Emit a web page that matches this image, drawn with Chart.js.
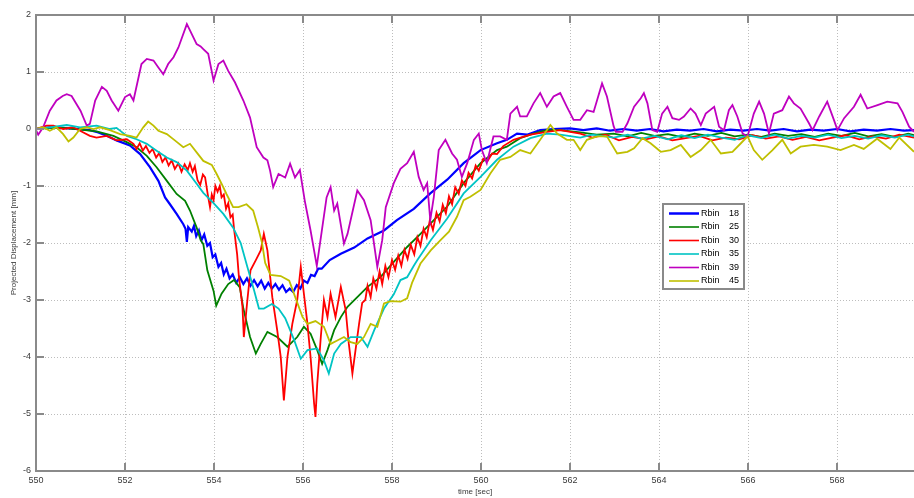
<!DOCTYPE html>
<html><head><meta charset="utf-8">
<script src="https://cdn.jsdelivr.net/npm/chart.js@4.4.1/dist/chart.umd.min.js"></script>
<style>html,body{margin:0;padding:0;background:#fff;overflow:hidden}</style>
</head><body>
<canvas id="c" width="914" height="498"></canvas>
<script>
// ---- data (time [sec], displacement [mm]) ----
const seriesLabels = ['Rbin  18', 'Rbin  25', 'Rbin  30', 'Rbin  35', 'Rbin  39', 'Rbin  45'];
const seriesColors = ['#0000ff', '#008000', '#ff0000', '#00c4c4', '#bf00bf', '#bfbf00'];
const xTicks = [550, 552, 554, 556, 558, 560, 562, 564, 566, 568];
const yTicks = [2, 1, 0, -1, -2, -3, -4, -5, -6];
const xLabel = 'time [sec]';
const yLabel = 'Projected Displacement [mm]';

const rbin18 = [[550,0],[550.3,0.03],[550.61,0.02],[550.9,0],[551.21,-0.02],[551.4,-0.06],[551.59,-0.12],[551.81,-0.2],[552.11,-0.29],[552.34,-0.44],[552.56,-0.67],[552.75,-0.91],[552.9,-1.2],[553.01,-1.32],[553.16,-1.49],[553.31,-1.67],[553.36,-1.75],[553.39,-1.98],[553.42,-1.72],[553.5,-1.8],[553.55,-1.7],[553.6,-1.88],[553.66,-1.78],[553.72,-1.95],[553.78,-1.85],[553.85,-2.05],[553.91,-2],[553.97,-2.25],[554.03,-2.2],[554.1,-2.42],[554.16,-2.35],[554.22,-2.55],[554.28,-2.45],[554.35,-2.62],[554.42,-2.55],[554.5,-2.7],[554.58,-2.6],[554.66,-2.72],[554.74,-2.62],[554.82,-2.75],[554.9,-2.65],[554.98,-2.76],[555.06,-2.66],[555.14,-2.8],[555.22,-2.7],[555.3,-2.8],[555.38,-2.72],[555.46,-2.82],[555.54,-2.74],[555.62,-2.86],[555.7,-2.8],[555.78,-2.86],[555.86,-2.74],[555.94,-2.8],[556.02,-2.66],[556.1,-2.7],[556.18,-2.56],[556.26,-2.58],[556.34,-2.45],[556.42,-2.45],[556.6,-2.3],[556.85,-2.19],[557.15,-2.08],[557.45,-1.92],[557.82,-1.78],[558.11,-1.6],[558.49,-1.4],[558.86,-1.13],[559.24,-0.89],[559.61,-0.6],[559.99,-0.37],[560.36,-0.25],[560.58,-0.19],[560.81,-0.08],[561.03,-0.1],[561.33,-0.02],[561.63,0],[562,0.01],[562.3,-0.02],[562.6,0.01],[562.9,-0.03],[563.2,0],[563.5,-0.03],[563.8,0],[564.1,-0.04],[564.4,-0.01],[564.7,-0.03],[565,0],[565.3,-0.04],[565.6,-0.01],[565.9,-0.03],[566.2,0],[566.5,-0.03],[566.8,0],[567.1,-0.04],[567.4,-0.01],[567.7,-0.03],[568,0],[568.3,-0.04],[568.6,-0.01],[568.9,-0.03],[569.2,0],[569.5,-0.03],[569.73,-0.02]];

const rbin25 = [[550,0],[550.3,0.02],[550.61,0.02],[551,-0.01],[551.36,-0.04],[551.74,-0.12],[552.04,-0.23],[552.26,-0.32],[552.49,-0.47],[552.71,-0.67],[552.94,-0.91],[553.16,-1.14],[553.35,-1.26],[553.46,-1.43],[553.61,-1.73],[553.7,-1.95],[553.76,-2.02],[553.85,-2.48],[553.99,-2.84],[554.05,-3.1],[554.17,-2.89],[554.32,-2.72],[554.45,-2.65],[554.58,-2.78],[554.66,-3.15],[554.81,-3.65],[554.94,-3.94],[555.05,-3.77],[555.2,-3.56],[555.42,-3.65],[555.65,-3.82],[555.87,-3.65],[556.02,-3.47],[556.17,-3.59],[556.32,-3.88],[556.43,-4.12],[556.55,-3.88],[556.7,-3.53],[556.85,-3.3],[557,-3.12],[557.22,-2.95],[557.45,-2.77],[557.74,-2.6],[558.04,-2.33],[558.34,-2.07],[558.64,-1.84],[558.94,-1.6],[559.24,-1.36],[559.61,-0.95],[559.99,-0.6],[560.36,-0.37],[560.58,-0.31],[560.88,-0.16],[561.18,-0.08],[561.48,-0.02],[561.78,-0.02],[562.23,-0.06],[562.6,-0.1],[562.98,-0.08],[563.3,-0.13],[563.6,-0.07],[563.9,-0.12],[564.2,-0.09],[564.5,-0.14],[564.8,-0.08],[565.1,-0.12],[565.4,-0.07],[565.7,-0.13],[566,-0.1],[566.3,-0.14],[566.6,-0.08],[566.9,-0.12],[567.2,-0.09],[567.5,-0.14],[567.8,-0.08],[568.1,-0.12],[568.4,-0.07],[568.7,-0.13],[569,-0.09],[569.3,-0.14],[569.6,-0.08],[569.73,-0.11]];

const rbin30 = [[550,0],[550.24,0.06],[550.39,0.06],[550.61,0],[550.84,0.03],[550.99,-0.03],[551.21,-0.12],[551.36,-0.15],[551.59,-0.12],[551.81,-0.2],[552.04,-0.18],[552.19,-0.26],[552.26,-0.35],[552.33,-0.25],[552.4,-0.38],[552.47,-0.3],[552.55,-0.42],[552.62,-0.35],[552.7,-0.5],[552.77,-0.42],[552.84,-0.58],[552.91,-0.5],[552.98,-0.64],[553.05,-0.55],[553.12,-0.7],[553.2,-0.6],[553.27,-0.75],[553.34,-0.62],[553.41,-0.72],[553.46,-0.6],[553.52,-0.75],[553.57,-0.65],[553.63,-0.9],[553.69,-0.98],[553.75,-0.8],[553.8,-0.85],[553.86,-1.15],[553.91,-1.37],[553.95,-1.15],[553.99,-1.25],[554.03,-1],[554.08,-1.1],[554.13,-1],[554.17,-1.2],[554.22,-1.15],[554.27,-1.4],[554.32,-1.3],[554.37,-1.55],[554.42,-1.5],[554.45,-1.75],[554.52,-2.2],[554.56,-2.6],[554.64,-3.12],[554.67,-3.65],[554.75,-3],[554.82,-2.48],[554.94,-2.3],[555.05,-2.13],[555.12,-1.84],[555.2,-2.13],[555.31,-2.95],[555.42,-3.53],[555.5,-4],[555.57,-4.76],[555.65,-4],[555.76,-3.42],[555.87,-3],[555.95,-2.42],[556.02,-2.89],[556.1,-3.42],[556.17,-4],[556.25,-4.82],[556.28,-5.05],[556.32,-4.47],[556.4,-3.65],[556.47,-3],[556.55,-3.3],[556.62,-2.89],[556.73,-3.3],[556.85,-2.77],[556.96,-3.18],[557.03,-3.77],[557.11,-4.29],[557.18,-3.88],[557.26,-3.42],[557.33,-3.05],[557.4,-3],[557.45,-2.75],[557.52,-2.95],[557.58,-2.62],[557.65,-2.8],[557.72,-2.5],[557.78,-2.72],[557.85,-2.4],[557.92,-2.6],[558,-2.3],[558.07,-2.47],[558.14,-2.22],[558.21,-2.4],[558.28,-2.12],[558.35,-2.28],[558.42,-2.03],[558.5,-2.2],[558.57,-1.9],[558.64,-2.05],[558.71,-1.75],[558.78,-1.9],[558.85,-1.6],[558.92,-1.77],[559,-1.47],[559.07,-1.62],[559.14,-1.33],[559.21,-1.48],[559.28,-1.18],[559.35,-1.32],[559.42,-1.02],[559.5,-1.14],[559.57,-0.9],[559.65,-1],[559.72,-0.77],[559.8,-0.87],[559.88,-0.64],[559.95,-0.73],[560.05,-0.52],[560.15,-0.56],[560.25,-0.43],[560.36,-0.44],[560.5,-0.3],[560.73,-0.19],[561.11,-0.1],[561.48,-0.05],[561.78,-0.02],[562.23,-0.08],[562.5,-0.15],[562.8,-0.1],[563.1,-0.2],[563.4,-0.14],[563.7,-0.18],[564,-0.13],[564.3,-0.2],[564.6,-0.16],[564.9,-0.12],[565.2,-0.2],[565.5,-0.15],[565.8,-0.18],[566.1,-0.11],[566.4,-0.17],[566.7,-0.13],[567,-0.19],[567.3,-0.14],[567.6,-0.2],[567.9,-0.15],[568.2,-0.11],[568.5,-0.18],[568.8,-0.13],[569.1,-0.17],[569.4,-0.1],[569.73,-0.15]];

const rbin35 = [[550,0],[550.31,0.03],[550.69,0.07],[550.99,0.03],[551.36,0.06],[551.66,0],[551.81,0.02],[552.04,-0.12],[552.26,-0.18],[552.49,-0.26],[552.71,-0.38],[552.94,-0.5],[553.16,-0.58],[553.39,-0.73],[553.61,-0.96],[553.76,-1.12],[553.99,-1.3],[554.21,-1.49],[554.43,-1.73],[554.6,-2],[554.75,-2.42],[554.9,-2.83],[555.01,-3.15],[555.12,-3.15],[555.3,-3.07],[555.45,-3.15],[555.6,-3.32],[555.8,-3.7],[555.95,-4.03],[556.1,-3.88],[556.32,-3.85],[556.47,-4.06],[556.58,-4.29],[556.7,-3.94],[556.85,-3.77],[557.07,-3.65],[557.3,-3.65],[557.45,-3.82],[557.6,-3.53],[557.82,-3.15],[558.04,-2.9],[558.19,-2.65],[558.34,-2.6],[558.49,-2.4],[558.57,-2.3],[558.87,-1.95],[559.24,-1.57],[559.61,-1.13],[559.99,-0.84],[560.36,-0.54],[560.73,-0.31],[561.11,-0.16],[561.48,-0.08],[561.78,-0.1],[562.23,-0.15],[562.5,-0.1],[562.98,-0.15],[563.3,-0.1],[563.6,-0.17],[563.9,-0.12],[564.2,-0.18],[564.5,-0.11],[564.8,-0.16],[565.1,-0.1],[565.4,-0.15],[565.7,-0.19],[566,-0.11],[566.3,-0.16],[566.6,-0.1],[566.9,-0.17],[567.2,-0.12],[567.5,-0.15],[567.8,-0.1],[568.1,-0.16],[568.4,-0.12],[568.7,-0.17],[569,-0.11],[569.3,-0.15],[569.6,-0.1],[569.73,-0.13]];

const rbin39 = [[550,-0.02],[550.05,-0.1],[550.16,0.03],[550.31,0.32],[550.46,0.5],[550.6,0.58],[550.69,0.61],[550.8,0.58],[551,0.32],[551.14,0.06],[551.21,0.09],[551.33,0.5],[551.48,0.74],[551.59,0.67],[551.7,0.5],[551.85,0.32],[552,0.56],[552.11,0.61],[552.19,0.5],[552.37,1.14],[552.49,1.23],[552.64,1.2],[552.75,1.08],[552.86,0.96],[552.97,1.14],[553.09,1.26],[553.2,1.43],[553.39,1.84],[553.46,1.73],[553.61,1.49],[553.7,1.45],[553.76,1.4],[553.87,1.32],[553.99,0.85],[554.1,1.14],[554.21,1.2],[554.32,1.02],[554.47,0.82],[554.66,0.5],[554.81,0.2],[554.96,-0.32],[555.11,-0.5],[555.2,-0.55],[555.26,-0.73],[555.33,-1.02],[555.45,-0.79],[555.6,-0.85],[555.71,-0.61],[555.82,-0.85],[555.93,-0.72],[556.04,-1.26],[556.17,-1.78],[556.31,-2.4],[556.42,-1.8],[556.53,-1.2],[556.62,-1.02],[556.7,-1.43],[556.77,-1.31],[556.92,-2.01],[557,-1.84],[557.22,-1.08],[557.37,-1.25],[557.52,-1.6],[557.67,-2.42],[557.78,-1.95],[557.86,-1.37],[558.04,-0.95],[558.19,-0.7],[558.34,-0.6],[558.49,-0.4],[558.6,-0.84],[558.71,-1.07],[558.79,-0.95],[558.86,-1.6],[558.94,-1.19],[559.05,-0.37],[559.2,-0.19],[559.35,-0.43],[559.46,-0.54],[559.57,-0.84],[559.69,-0.6],[559.84,-0.19],[559.95,-0.08],[560.02,-0.37],[560.13,-0.6],[560.28,-0.13],[560.43,-0.13],[560.58,-0.19],[560.66,0.27],[560.81,0.39],[560.88,0.22],[561.03,0.22],[561.18,0.45],[561.33,0.63],[561.48,0.39],[561.63,0.57],[561.78,0.63],[561.93,0.39],[562.08,0.16],[562.23,0.16],[562.38,0.33],[562.53,0.3],[562.72,0.8],[562.83,0.57],[562.98,0.05],[563.03,-0.05],[563.18,-0.05],[563.29,0.1],[563.44,0.39],[563.59,0.54],[563.66,0.63],[563.74,0.45],[563.85,-0.02],[563.96,-0.05],[564.07,0.27],[564.19,0.39],[564.3,0.19],[564.45,0.16],[564.56,0.22],[564.71,0.36],[564.82,0.27],[564.94,0.07],[565.05,0.27],[565.24,0.39],[565.35,0.04],[565.46,-0.02],[565.57,0.33],[565.65,0.42],[565.76,0.22],[565.88,-0.08],[565.99,-0.13],[566.13,0.27],[566.25,0.48],[566.36,0.27],[566.47,-0.08],[566.58,0.27],[566.77,0.33],[566.92,0.57],[567.03,0.45],[567.18,0.36],[567.37,0.1],[567.45,-0.02],[567.6,0.22],[567.78,0.48],[567.93,0.16],[568.01,-0.02],[568.16,0.19],[568.38,0.39],[568.53,0.6],[568.68,0.36],[568.91,0.42],[569.13,0.48],[569.36,0.45],[569.47,0.3],[569.62,0.04],[569.73,-0.05]];

const rbin45 = [[550,0],[550.16,0.03],[550.31,-0.03],[550.46,0.03],[550.61,-0.09],[550.73,-0.22],[550.84,-0.15],[550.99,0],[551.14,0.03],[551.29,0],[551.44,0.03],[551.66,-0.02],[551.89,-0.09],[552.11,-0.12],[552.26,-0.15],[552.41,0.03],[552.52,0.13],[552.64,0.06],[552.75,-0.03],[552.94,-0.09],[553.12,-0.2],[553.31,-0.32],[553.46,-0.26],[553.61,-0.41],[553.76,-0.56],[553.95,-0.63],[554.06,-0.79],[554.17,-0.96],[554.28,-1.14],[554.43,-1.37],[554.55,-1.37],[554.73,-1.32],[554.88,-1.43],[554.99,-1.73],[555.08,-2],[555.15,-2.35],[555.27,-2.56],[555.5,-2.58],[555.69,-2.66],[555.84,-2.98],[555.99,-3.3],[556.1,-3.42],[556.28,-3.37],[556.47,-3.47],[556.62,-3.77],[556.77,-3.71],[556.92,-3.65],[557.07,-3.74],[557.22,-3.77],[557.37,-3.65],[557.52,-3.42],[557.67,-3.47],[557.82,-3.06],[557.97,-3.02],[558.19,-3.03],[558.34,-2.97],[558.45,-2.7],[558.64,-2.36],[558.87,-2.13],[559.09,-1.95],[559.28,-1.8],[559.46,-1.54],[559.61,-1.25],[559.76,-1.19],[559.99,-1.07],[560.21,-0.78],[560.43,-0.54],[560.66,-0.49],[560.88,-0.37],[561.11,-0.43],[561.33,-0.19],[561.56,0.07],[561.71,-0.08],[561.93,-0.19],[562.08,-0.19],[562.23,-0.37],[562.38,-0.19],[562.61,-0.13],[562.83,-0.13],[563.06,-0.43],[563.29,-0.4],[563.44,-0.34],[563.63,-0.16],[563.81,-0.25],[564.04,-0.4],[564.26,-0.37],[564.49,-0.28],[564.71,-0.49],[564.94,-0.37],[565.16,-0.19],[565.39,-0.43],[565.65,-0.4],[565.84,-0.25],[565.99,-0.13],[566.13,-0.37],[566.32,-0.54],[566.55,-0.37],[566.77,-0.19],[566.96,-0.43],[567.18,-0.31],[567.48,-0.28],[567.78,-0.31],[568.08,-0.37],[568.38,-0.28],[568.6,-0.35],[568.9,-0.17],[569.2,-0.35],[569.4,-0.15],[569.73,-0.4]];

const seriesData = [rbin18, rbin25, rbin30, rbin35, rbin39, rbin45];

// ---- chart ----
const AXIS_COLOR = '#8a8a8a';
const FONT = 'Liberation Sans, Arial, Helvetica, sans-serif';

const framePlugin = {
  id: 'frame',
  afterDatasetsDraw(chart) {
    const {ctx, chartArea: a, scales: {x, y}} = chart;
    ctx.save();
    ctx.strokeStyle = AXIS_COLOR;
    ctx.lineWidth = 2;
    ctx.beginPath();
    ctx.moveTo(a.right + 2, a.top); ctx.lineTo(a.left, a.top);
    ctx.lineTo(a.left, a.bottom); ctx.lineTo(a.right + 2, a.bottom);
    xTicks.forEach(v => {
      const px = Math.round(x.getPixelForValue(v));
      ctx.moveTo(px, a.bottom); ctx.lineTo(px, a.bottom - 8);
      ctx.moveTo(px, a.top); ctx.lineTo(px, a.top + 8);
    });
    yTicks.forEach(v => {
      const py = Math.round(y.getPixelForValue(v));
      ctx.moveTo(a.left, py); ctx.lineTo(a.left + 8, py);
    });
    ctx.stroke();
    ctx.restore();
  }
};

const legendPlugin = {
  id: 'boxLegend',
  afterDraw(chart) {
    const {ctx} = chart;
    const bx = 663, by = 204, bw = 81, bh = 85, rowH = 13.5;
    ctx.save();
    ctx.fillStyle = '#ffffff';
    ctx.fillRect(bx, by, bw, bh);
    ctx.strokeStyle = '#8a8a8a';
    ctx.lineWidth = 2;
    ctx.strokeRect(bx, by, bw, bh);
    ctx.font = '9px ' + FONT;
    ctx.textBaseline = 'middle';
    chart.data.datasets.forEach((ds, i) => {
      const cy = by + 9.5 + i * rowH;
      ctx.strokeStyle = ds.borderColor;
      ctx.lineWidth = i === 0 ? 2.5 : 1.6;
      ctx.beginPath(); ctx.moveTo(669, cy); ctx.lineTo(699, cy); ctx.stroke();
      const parts = ds.label.split(/\s+/);
      ctx.fillStyle = '#000';
      ctx.textAlign = 'left';
      ctx.fillText(parts[0], 701, cy);
      ctx.textAlign = 'right';
      ctx.fillText(parts[1], 739, cy);
    });
    ctx.restore();
  }
};

new Chart(document.getElementById('c'), {
  type: 'line',
  data: {
    datasets: seriesData.map((s, i) => ({
      label: seriesLabels[i],
      data: s.map(p => ({x: p[0], y: p[1]})),
      borderColor: seriesColors[i],
      backgroundColor: seriesColors[i],
      borderWidth: i === 0 ? 2.2 : 1.8,
      pointRadius: 0,
      tension: 0,
      fill: false,
      order: seriesData.length - i
    }))
  },
  options: {
    responsive: false,
    animation: false,
    devicePixelRatio: 1,
    layout: {padding: {top: 15, right: 0, bottom: 0, left: 0}},
    plugins: {legend: {display: false}, tooltip: {enabled: false}, title: {display: false}},
    scales: {
      x: {
        type: 'linear',
        min: 550, max: 569.73,
        afterBuildTicks: s => { s.ticks = xTicks.map(v => ({value: v})); },
        afterFit: s => { s.height = 27; },
        grid: {color: '#bdbdbd', lineWidth: 1, drawTicks: false},
        border: {display: false, dash: [1, 2]},
        ticks: {padding: 4, maxRotation: 0, autoSkip: false, color: '#3a3a3a', font: {size: 9, family: FONT}, callback: v => String(v)},
        title: {display: true, text: xLabel, color: '#3a3a3a', font: {size: 8, family: FONT}, padding: {top: 0, bottom: 1}}
      },
      y: {
        type: 'linear',
        min: -6, max: 2,
        afterBuildTicks: s => { s.ticks = yTicks.map(v => ({value: v})); },
        afterFit: s => { s.width = 36; },
        grid: {color: '#bdbdbd', lineWidth: 1, drawTicks: false},
        border: {display: false, dash: [1, 2]},
        ticks: {padding: 5, autoSkip: false, color: '#3a3a3a', font: {size: 9, family: FONT}, callback: v => String(v)},
        title: {display: true, text: yLabel, color: '#3a3a3a', font: {size: 8, family: FONT}, padding: {top: 9, bottom: 0}}
      }
    }
  },
  plugins: [framePlugin, legendPlugin]
});
</script>
</body></html>
